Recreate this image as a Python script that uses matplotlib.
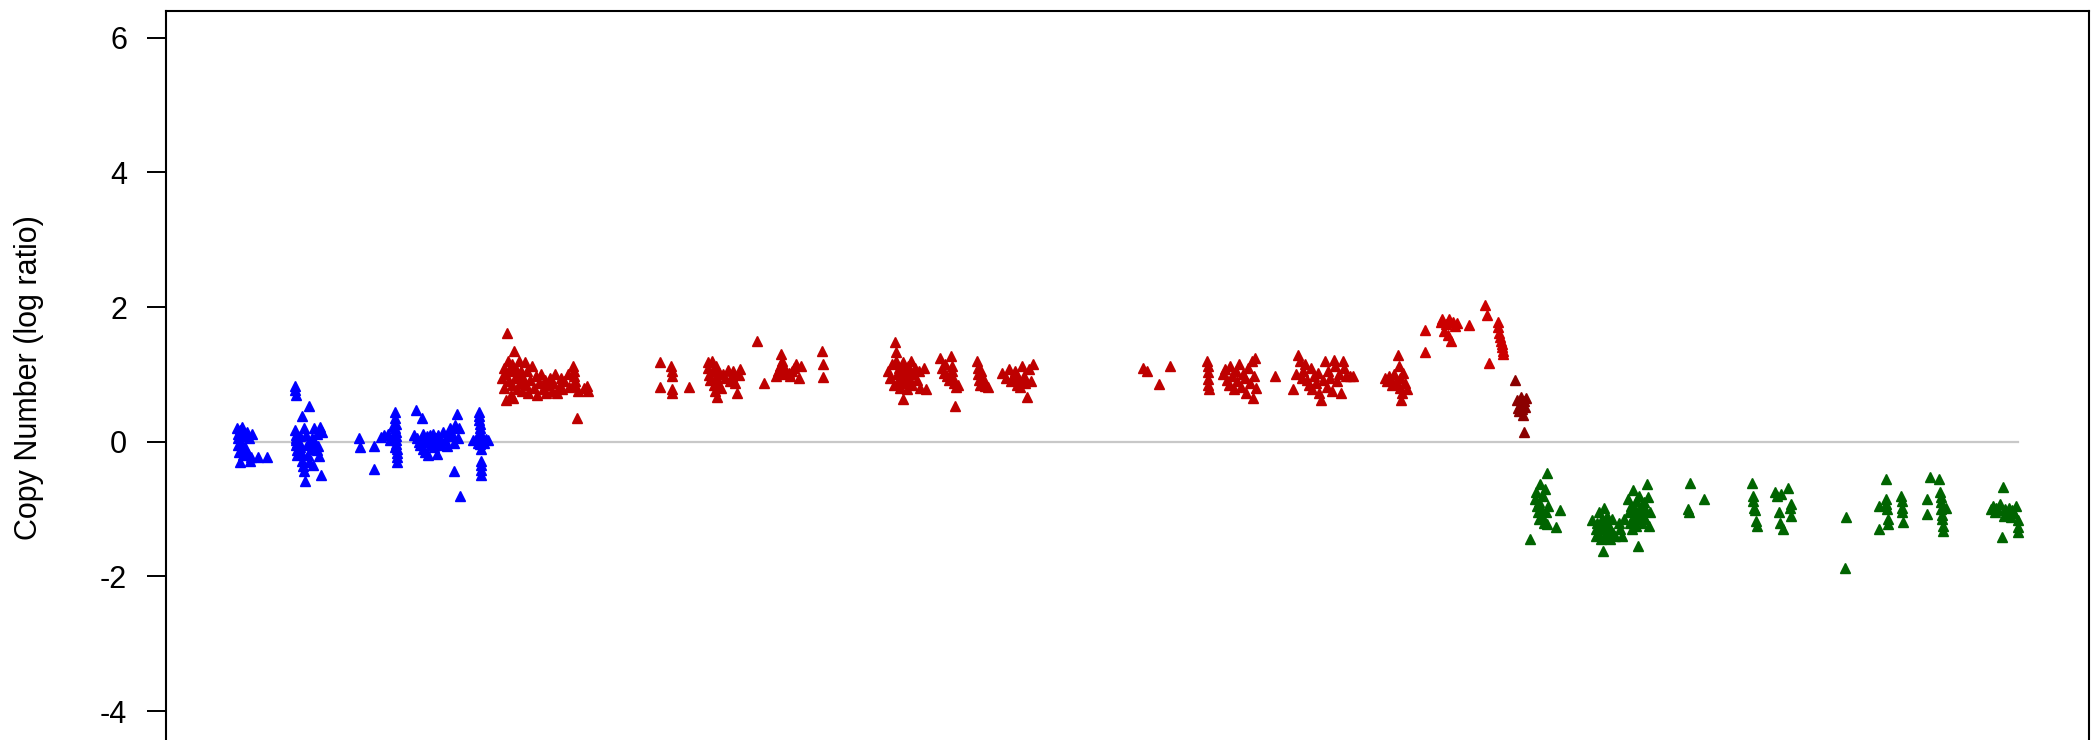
import matplotlib
matplotlib.use("Agg")
import matplotlib.pyplot as plt

plt.rcParams['font.family'] = ['Liberation Sans', 'DejaVu Sans']
plt.rcParams['axes.unicode_minus'] = False

# genomic position (arbitrary index) and copy number log ratio, per colour segment
blue_pos = [0.5, 0.8, 1, 1.2, 1.5, 1.8, 2, 2.3, 2.6, 3, 3.3, 3.6, 4, 4.3, 5, 6, 6.5, 7, 7.5, 8.5, 9, 12, 17,
            33, 33.2, 33.4, 33, 33.3, 33.5, 33.7, 34, 34.3, 33.6, 34, 35, 35.5, 36, 36.5, 37, 37.5, 38, 38.5,
            37, 38, 39, 39.5, 40, 40.5, 41, 41.5, 42, 42.5, 43, 43.5, 44, 45, 45.5, 46, 46.5, 47, 47.5, 48,
            69, 69.3, 77.5, 77.5, 81, 83, 85, 86, 89, 89.2, 89.4, 89.3, 89.5, 89.6, 89.7, 89.8, 89.9, 90,
            90.1, 90.2, 88.5, 88.8, 88.2,
            101, 104, 100, 101.5, 102.5, 103, 104.5, 105, 105.5, 106, 106.5, 107, 107.5, 108, 108.5, 109,
            110, 110.5, 111, 112, 112.5, 113, 114, 115, 116, 117, 118, 119, 120, 121, 122, 123, 124, 124.5,
            122, 125.5, 125,
            133, 134.5, 135.5, 136, 136.2, 136.4, 136.5, 136.6, 136.7, 136.8, 136.9, 137, 137.1, 137.2,
            137.3, 137.4, 137.5, 138, 139, 140, 141]
blue_lr = [0.2, 0.12, 0.05, -0.05, -0.15, -0.3, 0.18, 0.08, -0.02, 0.22, -0.1, 0.15, -0.2, 0.1, -0.08, 0.15,
           -0.18, 0.05, -0.28, -0.22, 0.12, -0.22, -0.22,
           0.83, 0.77, 0.7, 0.18, 0.1, 0.02, -0.05, -0.12, -0.2, 0.05, -0.02, 0.0, -0.08, 0.08, -0.15, -0.28,
           -0.36, -0.43, -0.58, 0.39, 0.2, 0.1, -0.05, -0.2, -0.3, 0.53, 0.0, -0.1, 0.05, -0.35, 0.21, -0.02,
           0.12, -0.12, -0.06, -0.21, 0.22, -0.5, 0.14,
           0.06, -0.08, -0.06, -0.4, 0.07, 0.1, 0.12, 0.02, 0.44, 0.35, 0.27, 0.2, 0.14, 0.08, 0.02, -0.04,
           -0.1, -0.16, -0.22, -0.3, 0.1, -0.08, 0.24,
           0.47, 0.36, 0.1, 0.06, 0.0, -0.05, 0.12, -0.1, 0.05, -0.15, 0.0, 0.08, -0.2, 0.02, 0.1, -0.05,
           0.0, 0.12, -0.08, 0.05, -0.18, 0.1, 0.0, -0.05, 0.15, 0.03, -0.06, 0.08, 0.2, 0.12, -0.02, 0.25,
           0.41, 0.05, -0.43, -0.8, 0.2,
           0.03, 0.04, -0.02, 0.44, 0.38, 0.32, 0.26, 0.2, 0.14, 0.08, 0.02, -0.04, -0.1, -0.28, -0.35,
           -0.42, -0.5, 0.04, -0.02, 0.04, 0.03]

red_pos = [149, 150, 150.5, 151, 151.5, 152, 152.5, 153, 153.5, 154, 154.5, 155, 155.5, 156, 156.5, 157,
           157.5, 158, 158.5, 159, 160, 160.5, 161, 162, 162.5, 163, 164, 165, 166, 167, 168, 169, 170, 171,
           172, 173, 174, 175, 176, 177, 178, 179, 180, 181, 182, 183, 184, 186, 187, 189, 189.3, 189.6,
           189.9, 190.2, 191, 192, 195, 197, 197.3,
           238, 238, 244, 244.3, 244.6, 244.5, 244.8, 254,
           264.5, 265, 265.5, 266, 267, 267.5, 268, 268.5, 269, 269.5, 270, 270.5, 271, 272, 273, 274.5, 276,
           277, 278, 279, 280, 281, 282, 283, 292, 296,
           303, 304, 305, 306, 306.5, 307, 308, 310, 311, 312, 313, 314, 316, 317, 329, 329.5, 329.2,
           366, 367, 368, 369, 370, 370.3, 370.5, 371, 371.5, 372, 372.5, 373, 373.5, 374, 374.5, 375, 375.5,
           376, 376.5, 377, 378, 378.5, 379, 379.5, 380, 381, 382, 383, 384, 386, 387,
           395, 396, 397, 398, 399, 400, 401, 401.5, 402, 402.5, 403, 403.5, 404, 405,
           416, 416.3, 416.6, 417, 417.5, 418, 419, 420, 422,
           430, 432, 434, 435, 436, 437, 438, 439, 440, 441, 442, 443, 444, 445, 446, 447,
           509, 511, 518, 524, 545, 545.2, 545.4, 545.5, 545.6, 545.8,
           554, 555, 556, 557, 558, 559, 560, 561, 562, 563, 564, 565, 566, 567, 568, 569, 570, 570.5, 571,
           572, 572.5, 583,
           593, 595, 596, 597, 598, 599, 600, 601, 602, 603, 604, 605, 606, 607, 608, 609, 610, 611, 612,
           613, 614, 615, 616, 617, 618, 619, 620, 621, 622, 623, 625, 627,
           645, 646, 647, 648, 649, 650, 651, 652, 652.5, 653, 653.5, 654, 654.5, 655, 656, 657]
red_lr = [0.95, 1.1, 0.8, 1.0, 0.62, 1.61, 1.2, 0.9, 1.05, 0.7, 0.85, 1.15, 0.65, 1.35, 0.95, 1.08, 0.78,
          1.0, 1.2, 0.88, 1.05, 0.75, 0.95, 1.18, 0.85, 1.05, 0.72, 0.92, 1.12, 0.8, 0.98, 0.7, 0.88, 1.0,
          0.78, 0.92, 0.72, 0.85, 0.95, 0.75, 0.88, 1.0, 0.72, 0.82, 0.95, 0.78, 0.9, 1.0, 0.82, 1.13, 1.05,
          0.98, 0.9, 0.83, 0.36, 0.76, 0.8, 0.83, 0.76,
          1.18, 0.81, 1.12, 1.05, 0.98, 0.78, 0.72, 0.81,
          1.18, 1.1, 0.99, 0.92, 1.2, 1.05, 0.85, 0.75, 1.12, 0.96, 0.66, 0.88, 1.02, 0.8, 1.0, 0.95, 1.06,
          0.9, 0.98, 1.05, 0.88, 0.73, 0.99, 1.08, 1.5, 0.88,
          0.98, 1.05, 1.12, 1.3, 1.2, 1.0, 1.08, 1.02, 0.98, 1.05, 1.1, 1.15, 0.95, 1.12, 1.35, 1.15, 0.96,
          1.05, 0.95, 1.15, 0.85, 1.48, 1.33, 1.2, 1.0, 0.9, 1.1, 0.8, 1.05, 0.95, 1.18, 0.63, 0.88, 1.08,
          0.98, 0.78, 1.12, 0.92, 1.02, 1.2, 0.85, 1.0, 1.1, 0.92, 1.05, 0.8, 1.1, 0.78,
          1.25, 1.1, 1.02, 1.15, 0.98, 0.92, 1.28, 1.12, 1.05, 0.95, 0.88, 0.53, 0.82, 0.85,
          1.2, 1.1, 1.0, 0.92, 0.85, 1.05, 0.95, 0.83, 0.82,
          1.02, 0.95, 1.08, 0.9, 0.98, 1.05, 0.85, 0.95, 0.82, 1.12, 0.98, 0.88, 0.66, 1.08, 0.9, 1.15,
          1.1, 1.05, 0.86, 1.13, 1.2, 1.12, 1.03, 0.93, 0.85, 0.78,
          1.0, 1.08, 0.92, 0.85, 1.12, 0.98, 0.78, 1.05, 0.9, 1.15, 0.82, 1.0, 0.95, 0.72, 1.1, 0.88, 1.2,
          0.65, 0.98, 1.25, 0.8, 0.98,
          0.79, 1.0, 1.29, 1.2, 0.95, 1.05, 1.15, 0.92, 0.85, 1.1, 0.78, 0.98, 0.88, 1.02, 0.72, 0.62, 0.92,
          1.2, 0.82, 1.05, 0.95, 0.75, 1.22, 1.12, 0.9, 1.0, 0.72, 1.2, 1.1, 0.98, 0.97, 0.97,
          0.95, 0.9, 0.98, 0.92, 0.85, 1.0, 0.88, 1.29, 1.12, 0.95, 0.8, 0.62, 0.72, 1.02, 0.88, 0.78]

gain_pos = [667, 667.5, 676, 677, 678, 679, 680, 681, 682, 683, 684, 685, 692, 701, 702, 703, 708, 708.5,
            709, 709.5, 710, 710.3, 710.6, 711, 711.2]
gain_lr = [1.66, 1.34, 1.78, 1.83, 1.65, 1.75, 1.58, 1.83, 1.49, 1.78, 1.72, 1.76, 1.73, 2.03, 1.88, 1.17,
           1.78, 1.7, 1.62, 1.55, 1.5, 1.45, 1.4, 1.35, 1.3]

dark_pos = [718, 719, 719.5, 720, 720.5, 721, 721.5, 722, 722.5, 723, 723.5, 724, 723]
dark_lr = [0.92, 0.62, 0.5, 0.45, 0.55, 0.67, 0.58, 0.48, 0.4, 0.6, 0.52, 0.65, 0.14]

green_pos = [726, 729, 729.5, 730, 730.5, 731, 731.5, 732, 732.5, 733, 733.5, 734, 734.5, 735, 735.5, 736,
             736.5, 741, 743,
             761, 763, 763.5, 764, 764.5, 765, 765.5, 766, 766.5, 767, 767.5, 768, 768.5, 769, 769.5, 770,
             770.5, 771, 772, 773, 774, 776, 777, 778, 779,
             781, 782, 782.5, 783, 783.5, 784, 784.5, 785, 785.5, 786, 786.5, 787, 787.5, 788, 788.5, 789,
             789.5, 790, 790.5, 791, 792, 792.5, 793, 793.5,
             815, 815.5, 816, 824,
             851, 851.3, 851.5, 852, 852.5, 853, 853.5,
             864, 865, 866, 866.5, 867, 868, 871, 872, 872.5, 873,
             903.7, 903,
             922, 922, 926, 926, 926.3, 926.6, 927, 927.3, 934.5, 935, 935, 935.3, 935.5,
             949, 949, 951, 956, 956.5, 956.8, 957, 957.2, 957.4, 957.6, 957.8, 958, 960,
             985, 986, 987, 988, 989, 990, 991, 992, 992.5, 993, 994, 995, 996, 997, 998, 999, 1000, 1000,
             1000]
green_lr = [-1.45, -0.85, -0.75, -0.95, -1.05, -0.9, -1.15, -0.62, -1.0, -1.1, -0.8, -1.2, -0.7, -1.05,
            -1.22, -0.46, -0.95, -1.27, -1.01,
            -1.16, -1.3, -1.4, -1.2, -1.35, -1.05, -1.25, -1.45, -1.15, -1.62, -1.3, -0.98, -1.4, -1.2,
            -1.1, -1.35, -1.25, -1.45, -1.15, -1.35, -1.4, -1.2, -1.3, -1.4, -1.15,
            -0.85, -1.05, -1.2, -0.95, -1.3, -0.72, -1.1, -1.0, -1.25, -0.88, -1.15, -1.55, -0.8, -1.05,
            -0.95, -1.2, -1.1, -0.9, -1.0, -1.15, -0.62, -0.82, -1.25, -1.05,
            -1.0, -1.05, -0.61, -0.85,
            -0.61, -0.8, -0.88, -0.98, -1.02, -1.17, -1.25,
            -0.75, -0.8, -1.05, -1.2, -0.78, -1.3, -0.68, -0.98, -1.1, -0.92,
            -1.11, -1.88,
            -0.95, -1.3, -0.56, -0.85, -0.93, -1.0, -1.15, -1.22, -0.8, -0.88, -0.98, -1.05, -1.19,
            -0.85, -1.07, -0.53, -0.55, -0.75, -0.82, -0.9, -1.0, -1.08, -1.15, -1.25, -1.32, -0.98,
            -1.0, -0.95, -1.05, -0.98, -1.02, -0.92, -1.41, -0.67, -1.1, -1.0, -1.06, -0.98, -1.12, -1.02,
            -1.06, -0.96, -1.26, -1.16, -1.34]

segments = [
    (blue_pos, blue_lr, '#0000FF'),
    (red_pos, red_lr, '#BE0000'),
    (gain_pos, gain_lr, '#CC0000'),
    (dark_pos, dark_lr, '#8B0000'),
    (green_pos, green_lr, '#006400'),
]

fig = plt.figure(figsize=(20.99, 7.40), dpi=100)
# bottom edge of the frame falls just outside the picture, as in the original
ax = fig.add_axes([0.0791, -0.005, 0.9161, 0.9905])

all_pos = blue_pos + red_pos + gain_pos + dark_pos + green_pos
xmin, xmax = min(all_pos), max(all_pos)
ax.plot([xmin, xmax], [0, 0], color='#C8C8C8', lw=1.6, zorder=1)

for pos, lr, col in segments:
    ax.plot(pos, lr, linestyle='none', marker='^', ms=6.5, color=col, mec=col, zorder=2)

pad = 0.04 * (xmax - xmin)
ax.set_xlim(xmin - pad, xmax + pad)
ax.set_ylim(-4.483, 6.4)
ax.set_yticks([-4, -2, 0, 2, 4, 6])
ax.set_xticks([])
ax.tick_params(axis='y', length=14, width=1.4, pad=14, labelsize=22)
for s in ax.spines.values():
    s.set_linewidth(1.5)
ax.set_ylabel('Copy Number (log ratio)', fontsize=22, labelpad=40)

plt.savefig('out.png', dpi=100)
